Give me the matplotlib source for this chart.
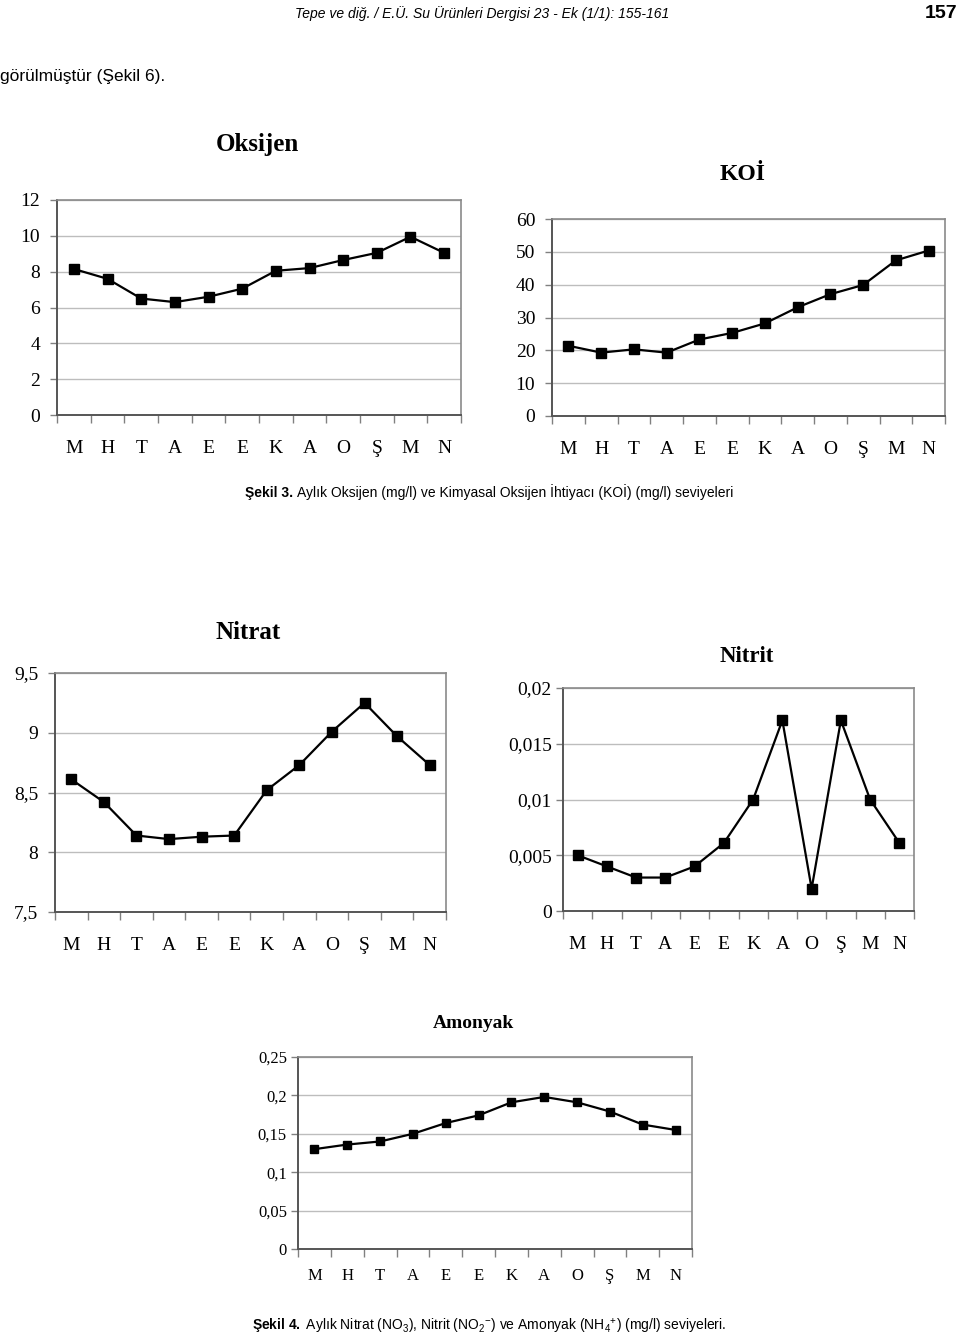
import matplotlib
matplotlib.use('Agg')
import matplotlib.pyplot as plt

W, H = 960, 1338

aylar = ['M', 'H', 'T', 'A', 'E', 'E', 'K', 'A', 'O', 'Ş', 'M', 'N']

oksijen = [8.15, 7.6, 6.5, 6.3, 6.6, 7.05, 8.05, 8.2, 8.65, 9.05, 9.95, 9.05]
koi = [21.4, 19.3, 20.3, 19.3, 23.3, 25.3, 28.2, 33.1, 37.1, 39.9, 47.4, 50.4]
nitrat = [8.61, 8.42, 8.14, 8.11, 8.13, 8.14, 8.52, 8.73, 9.01, 9.25, 8.97, 8.73]
nitrit = [0.005, 0.004, 0.003, 0.003, 0.004, 0.0061, 0.01, 0.0171, 0.002, 0.0171, 0.01, 0.0061]
amonyak = [0.13, 0.136, 0.14, 0.15, 0.164, 0.174, 0.191, 0.198, 0.191, 0.179, 0.162, 0.155]

oksijen_ticks = [0, 2, 4, 6, 8, 10, 12]
koi_ticks = [0, 10, 20, 30, 40, 50, 60]
nitrat_ticks = [7.5, 8, 8.5, 9, 9.5]
nitrit_ticks = [0, 0.005, 0.01, 0.015, 0.02]
amonyak_ticks = [0, 0.05, 0.1, 0.15, 0.2, 0.25]

SERIF = ['Liberation Serif', 'DejaVu Serif']
SANS = ['Liberation Sans', 'DejaVu Sans']

plt.rcParams['mathtext.fontset'] = 'custom'
plt.rcParams['mathtext.rm'] = 'Liberation Sans'
plt.rcParams['mathtext.it'] = 'Liberation Sans:italic'
plt.rcParams['mathtext.bf'] = 'Liberation Sans:bold'


def virgul(v):
    return f'{v:g}'.replace('.', ',')


def pix_rect(left, top, right, bottom):
    # piksel kutusunu figure oranina cevir
    return [left / W, 1 - bottom / H, (right - left) / W, (bottom - top) / H]


def grafik(fig, rect, values, yticks, title, title_xy, fs=14, tfs=18, ms=7, ylab_pad=7, xlab_pad=18):
    ax = fig.add_axes(rect)
    x = range(len(values))
    ax.plot(x, values, color='black', lw=1.6, marker='s', ms=ms, mfc='black', mec='black', zorder=3)
    ax.set_xlim(-0.5, len(values) - 0.5)
    ax.set_ylim(yticks[0], yticks[-1])
    ax.set_yticks(yticks)
    ax.set_yticklabels([virgul(v) for v in yticks], family=SERIF, fontsize=fs)
    ax.set_xticks(list(x))
    ax.set_xticklabels(aylar, family=SERIF, fontsize=fs)
    ax.set_xticks([i - 0.5 for i in range(len(values) + 1)], minor=True)
    ax.tick_params(axis='x', which='major', length=0, pad=xlab_pad)
    ax.tick_params(axis='x', which='minor', length=6, width=1, color='#808080', direction='out')
    ax.tick_params(axis='y', which='major', length=5, width=1, color='#808080', direction='out', pad=ylab_pad)
    ax.grid(axis='y', color='#bdbdbd', lw=1)
    ax.set_axisbelow(True)
    for s in ['top', 'right']:
        ax.spines[s].set_color('#8a8a8a')
        ax.spines[s].set_linewidth(1.2)
    for s in ['left', 'bottom']:
        ax.spines[s].set_color('#555555')
        ax.spines[s].set_linewidth(1.4)
    fig.text(title_xy[0] / W, 1 - title_xy[1] / H, title, family=SERIF, fontsize=tfs,
             fontweight='bold', ha='center', va='center')
    return ax


def altyazi(fig, x, y, bold, rest, fs=10):
    # kalin "Sekil n." kismi, sonra normal metin hemen arkasindan
    r = fig.canvas.get_renderer()
    t = fig.text(x / W, 1 - y / H, bold, family=SANS, fontweight='bold', fontsize=fs,
                 ha='left', va='baseline')
    bb = t.get_window_extent(renderer=r)
    fig.text((bb.x1 + 4) / W, 1 - y / H, rest, family=SANS, fontsize=fs, ha='left', va='baseline')


fig = plt.figure(figsize=(W / 100, H / 100), dpi=100)

# sayfa ust bilgisi
fig.text(482 / W, 1 - 14 / H, 'Tepe ve diğ. / E.Ü. Su Ürünleri Dergisi 23 - Ek (1/1): 155-161',
         family=SANS, style='italic', fontsize=10, ha='center', va='center')
fig.text(957 / W, 1 - 14 / H, '157', family=SANS, fontweight='bold', fontsize=14, ha='right', va='center')
fig.text(0 / W, 1 - 76 / H, 'görülmüştür (Şekil 6).', family=SANS, fontsize=12.5, ha='left', va='center')

grafik(fig, pix_rect(57, 200, 461, 415), oksijen, oksijen_ticks, 'Oksijen', (257, 145), tfs=18)
grafik(fig, pix_rect(552, 219, 945, 416), koi, koi_ticks, 'KOİ', (743, 174), tfs=17)

altyazi(fig, 245, 497, 'Şekil 3.',
        'Aylık Oksijen (mg/l) ve Kimyasal Oksijen İhtiyacı (KOİ) (mg/l) seviyeleri')

grafik(fig, pix_rect(55, 673, 446, 912), nitrat, nitrat_ticks, 'Nitrat', (248, 633), tfs=18)
grafik(fig, pix_rect(563, 688, 914, 911), nitrit, nitrit_ticks, 'Nitrit', (747, 657), tfs=16.5,
       ms=6.5, ylab_pad=3)
grafik(fig, pix_rect(298, 1057, 692, 1249), amonyak, amonyak_ticks, 'Amonyak', (473, 1023),
       fs=12, tfs=14, ms=5.5, ylab_pad=3, xlab_pad=14)

fig.text(252 / W, 1 - 1331 / H,
         r'$\bf{Şekil\ 4.}$ Aylık Nitrat (NO$_3$), Nitrit (NO$_2$$^{-}$) ve Amonyak (NH$_4$$^{+}$) (mg/l) seviyeleri.',
         family=SANS, fontsize=10, ha='left', va='baseline')

fig.savefig('out.png', dpi=100)
